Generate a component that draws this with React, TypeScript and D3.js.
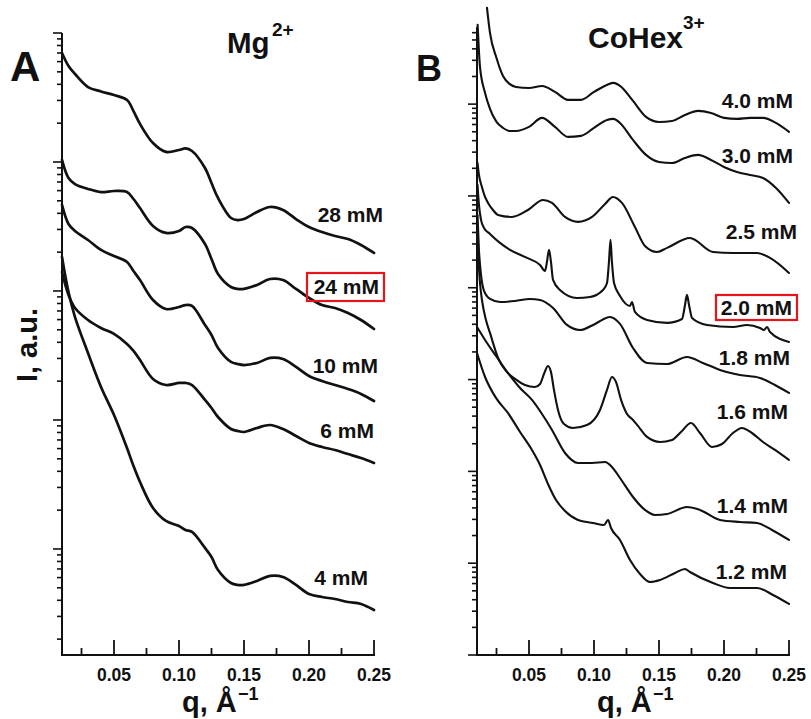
import React from 'react';
import * as d3 from 'd3';

// ---- Panel A: Mg2+ series, log10 intensity sampled on a shared q grid (Å^-1) ----
const qA = [0.01, 0.015, 0.02, 0.03, 0.04, 0.05, 0.06, 0.065, 0.07, 0.08, 0.09, 0.1, 0.105, 0.11, 0.12, 0.125, 0.13, 0.14, 0.145, 0.15, 0.16, 0.17, 0.18, 0.19, 0.2, 0.21, 0.22, 0.23, 0.24, 0.25];

const mg28 = [4.845, 4.744, 4.682, 4.581, 4.547, 4.519, 4.481, 4.395, 4.295, 4.147, 4.078, 4.093, 4.105, 4.085, 3.953, 3.837, 3.721, 3.566, 3.55, 3.558, 3.612, 3.651, 3.628, 3.558, 3.496, 3.457, 3.426, 3.403, 3.357, 3.295];
const mg24 = [4.016, 3.876, 3.829, 3.791, 3.767, 3.775, 3.767, 3.713, 3.643, 3.504, 3.45, 3.465, 3.496, 3.488, 3.364, 3.248, 3.132, 3.031, 3.016, 3.016, 3.047, 3.093, 3.085, 3.016, 2.946, 2.891, 2.868, 2.829, 2.775, 2.705];
const mg10 = [3.667, 3.519, 3.465, 3.395, 3.318, 3.271, 3.225, 3.155, 3.085, 2.93, 2.86, 2.876, 2.891, 2.884, 2.736, 2.659, 2.558, 2.45, 2.434, 2.426, 2.442, 2.481, 2.473, 2.411, 2.341, 2.302, 2.271, 2.24, 2.202, 2.147];
const mg6 = [3.147, 2.969, 2.868, 2.775, 2.713, 2.667, 2.589, 2.535, 2.465, 2.318, 2.271, 2.287, 2.287, 2.271, 2.155, 2.093, 2.023, 1.93, 1.915, 1.907, 1.938, 1.961, 1.93, 1.876, 1.822, 1.791, 1.767, 1.736, 1.705, 1.667];
const mg4 = [3.264, 2.992, 2.798, 2.519, 2.256, 2.039, 1.783, 1.643, 1.519, 1.318, 1.217, 1.178, 1.147, 1.132, 1.008, 0.938, 0.837, 0.736, 0.721, 0.721, 0.752, 0.791, 0.783, 0.721, 0.651, 0.628, 0.612, 0.589, 0.574, 0.527];

const mgLabels = ['28 mM', '24 mM', '10 mM', '6 mM', '4 mM'];

// ---- Panel B: CoHex3+ series, [q, log10 intensity] pairs ----
const coHex40: [number, number][] = [[0.0177, 7.048], [0.02, 6.776], [0.025, 6.503], [0.03, 6.307], [0.035, 6.22], [0.04, 6.187], [0.05, 6.176], [0.06, 6.198], [0.07, 6.133], [0.08, 6.046], [0.09, 6.046], [0.1, 6.133], [0.11, 6.209], [0.115, 6.231], [0.12, 6.198], [0.13, 6.035], [0.14, 5.861], [0.15, 5.806], [0.16, 5.817], [0.17, 5.882], [0.18, 5.926], [0.19, 5.904], [0.2, 5.85], [0.21, 5.839], [0.22, 5.85], [0.23, 5.85], [0.24, 5.795], [0.25, 5.697]];
const coHex30: [number, number][] = [[0.0105, 6.863], [0.0123, 6.405], [0.0162, 6.122], [0.02, 5.948], [0.025, 5.806], [0.03, 5.741], [0.035, 5.708], [0.04, 5.708], [0.05, 5.752], [0.06, 5.85], [0.07, 5.752], [0.08, 5.643], [0.09, 5.654], [0.1, 5.741], [0.11, 5.828], [0.115, 5.839], [0.12, 5.795], [0.13, 5.61], [0.14, 5.447], [0.15, 5.37], [0.16, 5.359], [0.17, 5.414], [0.18, 5.447], [0.19, 5.392], [0.2, 5.316], [0.21, 5.261], [0.22, 5.229], [0.23, 5.196], [0.24, 5.087], [0.25, 4.924]];
const coHex25: [number, number][] = [[0.0104, 5.359], [0.0115, 5.229], [0.0138, 5.098], [0.0162, 4.989], [0.0185, 4.924], [0.0223, 4.847], [0.0262, 4.793], [0.0369, 4.771], [0.0492, 4.847], [0.0608, 4.956], [0.0677, 4.924], [0.0777, 4.771], [0.0877, 4.717], [0.0985, 4.771], [0.1085, 4.913], [0.1146, 4.989], [0.1215, 4.924], [0.1315, 4.662], [0.1392, 4.455], [0.1485, 4.39], [0.1562, 4.434], [0.1738, 4.542], [0.1915, 4.39], [0.2069, 4.379], [0.2254, 4.379], [0.2354, 4.325], [0.25, 4.161]];
const coHex20: [number, number][] = [[0.0104, 5.12], [0.0115, 4.902], [0.0131, 4.739], [0.0154, 4.651], [0.02, 4.586], [0.0277, 4.488], [0.0354, 4.412], [0.0485, 4.325], [0.0585, 4.248], [0.0623, 4.183], [0.0638, 4.281], [0.0654, 4.412], [0.0669, 4.281], [0.0685, 4.085], [0.0738, 3.976], [0.0869, 3.889], [0.0969, 3.9], [0.1069, 3.976], [0.11, 4.052], [0.1115, 4.281], [0.1127, 4.521], [0.1138, 4.281], [0.1154, 4.052], [0.12, 3.911], [0.1277, 3.802], [0.1292, 3.845], [0.1315, 3.736], [0.1408, 3.649], [0.1562, 3.617], [0.1677, 3.66], [0.17, 3.813], [0.1715, 3.922], [0.1731, 3.813], [0.1754, 3.671], [0.1869, 3.595], [0.2069, 3.573], [0.2177, 3.595], [0.2277, 3.562], [0.2308, 3.54], [0.2331, 3.573], [0.2354, 3.519], [0.25, 3.41]];
const coHex18: [number, number][] = [[0.0104, 4.793], [0.0115, 4.412], [0.0131, 4.139], [0.0154, 3.965], [0.02, 3.878], [0.0277, 3.845], [0.0392, 3.856], [0.0508, 3.878], [0.0585, 3.867], [0.0685, 3.78], [0.0792, 3.595], [0.0892, 3.54], [0.1008, 3.606], [0.1123, 3.682], [0.12, 3.606], [0.13, 3.344], [0.1408, 3.181], [0.1562, 3.17], [0.1715, 3.246], [0.1838, 3.181], [0.1969, 3.105], [0.2123, 3.05], [0.2277, 3.017], [0.2392, 2.941], [0.25, 2.854]];
const coHex16: [number, number][] = [[0.0104, 4.488], [0.0123, 4.052], [0.0138, 3.867], [0.0169, 3.649], [0.02, 3.508], [0.0262, 3.235], [0.0323, 3.094], [0.0392, 3.007], [0.0469, 2.941], [0.0546, 2.919], [0.0585, 2.952], [0.0615, 3.061], [0.0646, 3.148], [0.0669, 3.083], [0.0692, 2.887], [0.0723, 2.669], [0.0769, 2.516], [0.0838, 2.473], [0.0946, 2.505], [0.1046, 2.669], [0.11, 2.887], [0.1138, 3.028], [0.1169, 2.974], [0.1208, 2.778], [0.1254, 2.625], [0.13, 2.56], [0.1338, 2.495], [0.1408, 2.375], [0.1508, 2.32], [0.16, 2.342], [0.1669, 2.429], [0.1746, 2.527], [0.1815, 2.418], [0.1908, 2.266], [0.1985, 2.298], [0.2069, 2.418], [0.2138, 2.473], [0.2215, 2.418], [0.23, 2.32], [0.2392, 2.233], [0.25, 2.124]];
const coHex14: [number, number][] = [[0.01, 3.573], [0.0162, 3.431], [0.0246, 3.257], [0.0338, 3.072], [0.0431, 2.908], [0.0523, 2.778], [0.06, 2.625], [0.0677, 2.451], [0.0777, 2.2], [0.0877, 2.092], [0.0985, 2.092], [0.1085, 2.102], [0.1138, 2.048], [0.12, 1.928], [0.13, 1.721], [0.1392, 1.58], [0.1469, 1.525], [0.1562, 1.536], [0.1715, 1.612], [0.1815, 1.58], [0.1969, 1.471], [0.2123, 1.449], [0.2254, 1.438], [0.2369, 1.362], [0.25, 1.253]];
const coHex12: [number, number][] = [[0.01, 3.29], [0.0162, 3.028], [0.0246, 2.8], [0.0338, 2.636], [0.0431, 2.429], [0.0523, 2.233], [0.0585, 2.07], [0.0646, 1.863], [0.0708, 1.688], [0.0777, 1.569], [0.0877, 1.471], [0.0992, 1.438], [0.1077, 1.416], [0.1108, 1.471], [0.1131, 1.383], [0.12, 1.253], [0.1277, 1.035], [0.1354, 0.882], [0.1431, 0.795], [0.1508, 0.817], [0.1623, 0.893], [0.17, 0.937], [0.1738, 0.904], [0.1915, 0.784], [0.2046, 0.73], [0.2254, 0.73], [0.2377, 0.654], [0.25, 0.556]];

const coHexLabels = ['4.0 mM', '3.0 mM', '2.5 mM', '2.0 mM', '1.8 mM', '1.6 mM', '1.4 mM', '1.2 mM'];

const xMajorTicks = [0.05, 0.1, 0.15, 0.2, 0.25];
const xMinorTicks = [0.025, 0.075, 0.125, 0.175, 0.225];
const xTickLabels = ['0.05', '0.10', '0.15', '0.20', '0.25'];

// ---- layout ----
const W = 811;
const H = 719;
const FONT = "'Liberation Sans', Arial, Helvetica, sans-serif";
const INK = '#111';
const RED = '#e8141b';
const Q_MIN = 0.01;
const Q_MAX = 0.25;

// label anchors: right edge x, baseline y
const mgLabelPos = [[383, 222], [379, 294], [378, 373], [374, 438], [368, 585]];
const coHexLabelPos = [[793, 108], [793, 163], [797, 239], [792, 315], [790, 365], [788, 419], [788, 513], [787, 579]];

type PanelProps = {
  left: number;
  right: number;
  top: number;
  bottom: number;
  lgMin: number;
  lgMax: number;
  series: [number, number][][];
  curve: d3.CurveFactory;
  strokeWidth: number;
  labels: string[];
  labelPos: number[][];
  box: [number, number, number, number];
};

function Panel(p: PanelProps) {
  const x = d3.scaleLinear().domain([Q_MIN, Q_MAX]).range([p.left, p.right]);
  const y = d3.scaleLog().domain([Math.pow(10, p.lgMin), Math.pow(10, p.lgMax)]).range([p.bottom, p.top]);
  const line = d3
    .line<[number, number]>()
    .x((d) => x(d[0]))
    .y((d) => y(Math.pow(10, d[1])))
    .curve(p.curve);

  const yTicks = y.ticks();
  const x0 = x(Q_MIN);

  return (
    <g>
      {/* y axis: decade ticks long, sub-decade ticks short */}
      <line x1={x0} x2={x0} y1={y.range()[1]} y2={p.bottom + 1} stroke={INK} strokeWidth={2} />
      {yTicks.map((t, i) => {
        const lg = Math.log10(t);
        const major = Math.abs(lg - Math.round(lg)) < 1e-6;
        const yy = y(t);
        return (
          <line key={'yt' + i} x1={x0 - (major ? 9 : 5)} x2={x0} y1={yy} y2={yy} stroke={INK} strokeWidth={1.6} />
        );
      })}
      {/* x axis with inward ticks */}
      <line x1={x0 - 1} x2={x(Q_MAX) + 1} y1={p.bottom} y2={p.bottom} stroke={INK} strokeWidth={2} />
      {xMajorTicks.map((t, i) => (
        <line key={'xM' + i} x1={x(t)} x2={x(t)} y1={p.bottom} y2={p.bottom - 15} stroke={INK} strokeWidth={1.8} />
      ))}
      {xMinorTicks.map((t, i) => (
        <line key={'xm' + i} x1={x(t)} x2={x(t)} y1={p.bottom} y2={p.bottom - 7} stroke={INK} strokeWidth={1.8} />
      ))}
      {xMajorTicks.map((t, i) => (
        <text
          key={'xl' + i}
          x={x(t)}
          y={p.bottom + 26}
          textAnchor="middle"
          fontFamily={FONT}
          fontWeight="bold"
          fontSize={17.5}
          fill={INK}
        >
          {xTickLabels[i]}
        </text>
      ))}
      {/* scattering curves */}
      {p.series.map((s, i) => (
        <path
          key={'s' + i}
          d={line(s) || ''}
          fill="none"
          stroke={INK}
          strokeWidth={p.strokeWidth}
          strokeLinejoin="round"
          strokeLinecap="round"
        />
      ))}
      {/* concentration labels */}
      {p.labels.map((lab, i) => (
        <text
          key={'lab' + i}
          x={p.labelPos[i][0]}
          y={p.labelPos[i][1]}
          textAnchor="end"
          fontFamily={FONT}
          fontWeight="bold"
          fontSize={21}
          fill={INK}
        >
          {lab}
        </text>
      ))}
      {/* highlighted concentration */}
      <rect x={p.box[0]} y={p.box[1]} width={p.box[2]} height={p.box[3]} fill="none" stroke={RED} strokeWidth={2.2} />
    </g>
  );
}

export default function App() {
  const mgSeries = [mg28, mg24, mg10, mg6, mg4].map((vals) => qA.map((q, i) => [q, vals[i]] as [number, number]));
  const coHexSeries = [coHex40, coHex30, coHex25, coHex20, coHex18, coHex16, coHex14, coHex12];

  return (
    <svg
      width={W}
      height={H}
      viewBox={`0 0 ${W} ${H}`}
      style={{ position: 'absolute', left: 0, top: 0, background: '#fff' }}
    >
      <rect x={0} y={0} width={W} height={H} fill="#fff" />

      <Panel
        left={62}
        right={374}
        top={33}
        bottom={655}
        lgMin={0.178}
        lgMax={5}
        series={mgSeries}
        curve={d3.curveCatmullRom.alpha(0.5)}
        strokeWidth={2.7}
        labels={mgLabels}
        labelPos={mgLabelPos}
        box={[307, 273, 77, 28]}
      />
      <Panel
        left={477}
        right={789}
        top={27}
        bottom={655}
        lgMin={0}
        lgMax={6.84}
        series={coHexSeries}
        curve={d3.curveMonotoneX}
        strokeWidth={2.1}
        labels={coHexLabels}
        labelPos={coHexLabelPos}
        box={[716, 295, 81, 25]}
      />

      {/* panel letters */}
      <text x={10} y={81} fontFamily={FONT} fontWeight="bold" fontSize={42} fill={INK}>A</text>
      <text x={416} y={81} fontFamily={FONT} fontWeight="bold" fontSize={36} fill={INK}>B</text>

      {/* panel titles */}
      <text x={227} y={53} fontFamily={FONT} fontWeight="bold" fontSize={29.5} fill={INK}>
        Mg
      </text>
      <text x={272} y={36} fontFamily={FONT} fontWeight="bold" fontSize={19} fill={INK}>
        2+
      </text>
      <text x={588} y={48} fontFamily={FONT} fontWeight="bold" fontSize={30} fill={INK}>
        CoHex
      </text>
      <text x={683} y={29} fontFamily={FONT} fontWeight="bold" fontSize={19} fill={INK}>
        3+
      </text>

      {/* y axis title */}
      <text
        transform="translate(37,345) rotate(-90)"
        textAnchor="middle"
        fontFamily={FONT}
        fontWeight="bold"
        fontSize={29}
        fill={INK}
      >
        I, a.u.
      </text>

      {/* x axis titles */}
      <text x={182} y={712} fontFamily={FONT} fontWeight="bold" fontSize={29} fill={INK}>
        q, Å
      </text>
      <text x={238} y={700} fontFamily={FONT} fontWeight="bold" fontSize={18} fill={INK}>
        −1
      </text>
      <text x={597} y={712} fontFamily={FONT} fontWeight="bold" fontSize={29} fill={INK}>
        q, Å
      </text>
      <text x={653} y={700} fontFamily={FONT} fontWeight="bold" fontSize={18} fill={INK}>
        −1
      </text>
    </svg>
  );
}
